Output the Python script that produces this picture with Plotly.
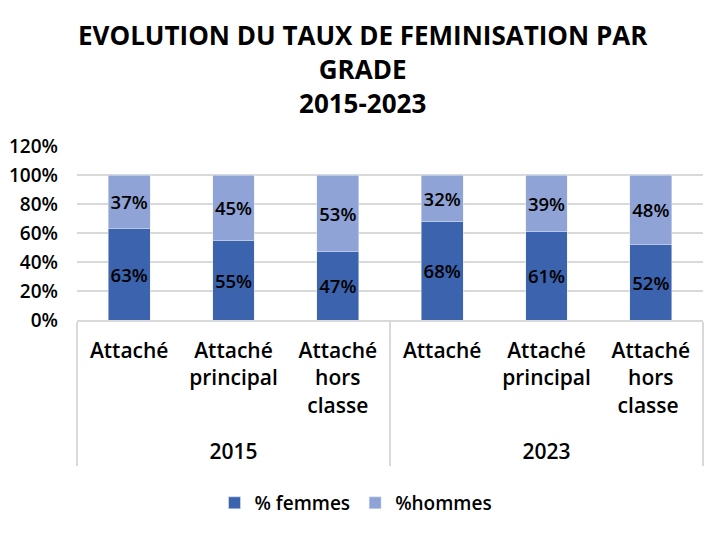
import plotly.graph_objects as go

years = ["<br>2015", "<br>2015", "<br>2015", "<br>2023", "<br>2023", "<br>2023"]
grades = ["Attaché", "Attaché<br>principal", "Attaché<br>hors<br>classe",
          "Attaché", "Attaché<br>principal", "Attaché<br>hors<br>classe "]
femmes = [63, 55, 47, 68, 61, 52]
hommes = [37, 45, 53, 32, 39, 48]

font = "Open Sans"
lbl = dict(color="black", size=18.5, family=font, weight=600)

# page body adds an 8px offset; figure coordinates below account for it
L, R, T, B = 69, 32, 138, 223
W, H = 727, 535
plot_w = W - L - R
plot_h = H - T - B

fig = go.Figure()
fig.add_trace(go.Bar(x=[years, grades], y=femmes, name="% femmes",
                     marker=dict(color="#3c63ad"),
                     text=femmes, texttemplate="%{text}%", textposition="inside",
                     insidetextanchor="middle", textangle=0, constraintext="none",
                     textfont=lbl))
fig.add_trace(go.Bar(x=[years, grades], y=hommes, name="%hommes",
                     marker=dict(color="#8fa3d6"),
                     text=hommes, texttemplate="%{text}%", textposition="inside",
                     insidetextanchor="middle", textangle=0, constraintext="none",
                     textfont=lbl))

cx = (355 - L) / plot_w
fig.add_annotation(
    text="<b>EVOLUTION DU TAUX DE FEMINISATION PAR<br>GRADE<br>2015-2023</b>",
    xref="paper", yref="paper", x=cx, xanchor="center",
    y=1 + (T - 7) / plot_h, yanchor="top", showarrow=False,
    font=dict(size=26, family=font, color="black"), align="center")

fig.update_layout(
    barmode="stack", bargap=0.6,
    width=W, height=H,
    margin=dict(l=L, r=R, t=T, b=B),
    paper_bgcolor="white", plot_bgcolor="white",
    font=dict(family=font, size=18, color="black", weight=600),
    showlegend=True,
    legend=dict(orientation="h", x=(348 - L) / plot_w, xanchor="center",
                y=-(491 - 312 - 15) / plot_h, yanchor="top",
                font=dict(size=19, weight=600), traceorder="normal"),
    uniformtext=dict(mode=False),
)
fig.update_yaxes(range=[0, 120], dtick=20, ticksuffix="%", showgrid=True,
                 gridcolor="#d9d9d9", gridwidth=1.5, zeroline=False,
                 tickfont=dict(size=19, weight=600), automargin=False,
                 ticklabelstandoff=18)
fig.update_xaxes(showdividers=True, dividercolor="#d9d9d9", dividerwidth=1.5,
                 showline=True, linecolor="#d9d9d9", linewidth=1.5,
                 tickfont=dict(size=21, weight=600), ticks="", automargin=False,
                 ticklabelstandoff=11)

fig.write_html("out.html")
